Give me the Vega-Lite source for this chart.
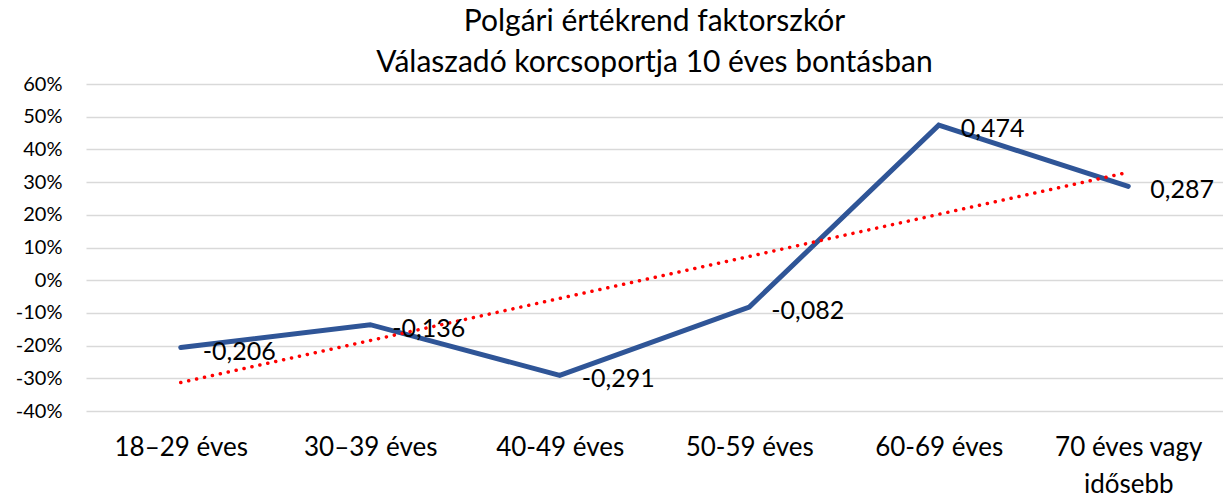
{
  "$schema": "https://vega.github.io/schema/vega-lite/v6.json",
  "width": 1137,
  "height": 327,
  "autosize": {"type": "none"},
  "padding": {"left": 86, "top": 84, "right": 0, "bottom": 91},
  "background": "#ffffff",
  "config": {
    "locale": {"number": {"decimal": ",", "thousands": " ", "grouping": [3], "currency": ["", ""], "minus": "-"}},
    "font": "Lato",
    "view": {"stroke": null}
  },
  "title": {
    "text": ["Polgári értékrend faktorszkór", "Válaszadó korcsoportja 10 éves bontásban"],
    "fontSize": 30,
    "fontWeight": "normal",
    "font": "Lato",
    "color": "#000000",
    "lineHeight": 41,
    "anchor": "middle",
    "offset": -4
  },
  "datasets": {
    "main": [
      {"korcsoport": "18–29 éves", "ertek": -0.206},
      {"korcsoport": "30–39 éves", "ertek": -0.136},
      {"korcsoport": "40-49 éves", "ertek": -0.291},
      {"korcsoport": "50-59 éves", "ertek": -0.082},
      {"korcsoport": "60-69 éves", "ertek": 0.474},
      {"korcsoport": "70 éves vagy idősebb", "ertek": 0.287}
    ],
    "trend": [
      {"korcsoport": "18–29 éves", "ertek": -0.313},
      {"korcsoport": "70 éves vagy idősebb", "ertek": 0.33}
    ]
  },
  "encoding": {
    "x": {
      "field": "korcsoport",
      "type": "nominal",
      "sort": ["18–29 éves", "30–39 éves", "40-49 éves", "50-59 éves", "60-69 éves", "70 éves vagy idősebb"],
      "scale": {"type": "point", "padding": 0.5},
      "axis": {
        "title": null,
        "labelAngle": 0,
        "labelFontSize": 26,
        "labelColor": "#000000",
        "labelFont": "Lato",
        "domain": false,
        "ticks": false,
        "grid": false,
        "labelPadding": 23,
        "labelBaseline": "top",
        "labelLineHeight": 37,
        "labelExpr": "datum.label == '70 éves vagy idősebb' ? ['70 éves vagy', 'idősebb'] : datum.label"
      }
    },
    "y": {
      "field": "ertek",
      "type": "quantitative",
      "scale": {"domain": [-0.4, 0.6], "nice": false, "zero": false},
      "axis": {
        "title": null,
        "format": ".0%",
        "values": [-0.4, -0.3, -0.2, -0.1, 0, 0.1, 0.2, 0.3, 0.4, 0.5, 0.6],
        "labelFontSize": 20,
        "labelColor": "#000000",
        "labelFont": "Lato",
        "domain": false,
        "ticks": false,
        "labelPadding": 24,
        "gridColor": "#D9D9D9",
        "gridWidth": 1.5
      }
    }
  },
  "layer": [
    {
      "data": {"name": "main"},
      "mark": {"type": "line", "color": "#2F5597", "strokeWidth": 5, "strokeCap": "round"}
    },
    {
      "data": {"name": "trend"},
      "mark": {"type": "line", "color": "#FF0000", "strokeWidth": 3.5, "strokeCap": "round", "strokeDash": [0.1, 8]}
    },
    {
      "data": {"name": "main"},
      "mark": {"type": "text", "align": "left", "baseline": "middle", "dx": 22, "dy": 4, "fontSize": 25, "font": "Lato", "color": "#000000"},
      "encoding": {"text": {"field": "ertek", "type": "quantitative", "format": ".3f"}}
    }
  ]
}
